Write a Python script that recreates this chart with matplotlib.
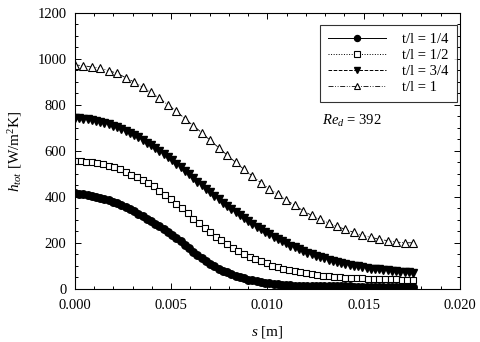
import numpy as np
import matplotlib
matplotlib.use("Agg")
import matplotlib.pyplot as plt
from matplotlib.ticker import MultipleLocator

plt.rcParams['font.family'] = ['Liberation Serif', 'DejaVu Serif']
plt.rcParams['mathtext.fontset'] = 'custom'
plt.rcParams['mathtext.rm'] = 'Liberation Serif'
plt.rcParams['mathtext.it'] = 'Liberation Serif:italic'

s_end = 0.01757

# t/l = 1/4 (filled circles)
h_quarter = [416, 415, 413, 410, 405, 401, 396, 391, 386, 380,
             373, 365, 357, 347, 337, 327, 316, 305, 295, 284,
             272, 260, 248, 235, 221, 207, 192, 177, 162, 148,
             134, 121, 110, 99, 89, 80, 72, 64, 57, 51,
             46, 41, 37, 33, 30, 27, 24, 22, 20, 18,
             17, 16, 15, 14, 13, 13, 12, 12, 12, 11,
             11, 11, 11, 11, 11, 11, 10, 10, 10, 10,
             10, 10, 10, 10, 10, 10, 10, 10, 10, 10, 10]

# t/l = 1/2 (open squares)
h_half = [556, 556, 554, 552, 548, 543, 536, 529, 520, 509,
          497, 486, 473, 460, 446, 428, 409, 390, 370, 350,
          330, 306, 286, 266, 246, 228, 211, 195, 179, 165,
          153, 141, 130, 120, 111, 102, 95, 88, 82, 77,
          72, 68, 64, 61, 58, 55, 53, 51, 49, 48,
          47, 46, 45, 44, 43, 43, 42, 42, 41, 41, 40]

# t/l = 3/4 (filled down triangles)
h_threeq = [743, 742, 740, 738, 735, 731, 727, 722, 716, 710,
            703, 695, 687, 679, 670, 659, 648, 636, 624, 612,
            600, 587, 574, 560, 545, 530, 514, 498, 482, 467,
            451, 436, 420, 405, 390, 376, 361, 347, 334, 320,
            307, 295, 282, 271, 260, 249, 238, 228, 218, 208,
            198, 189, 181, 173, 165, 158, 151, 145, 139, 133,
            127, 122, 117, 113, 109, 105, 101, 98, 95, 92,
            89, 87, 85, 83, 81, 79, 77, 75, 73, 72, 70]

# t/l = 1 (open triangles)
h_one = [974, 971, 965, 961, 949, 938, 919, 900, 878, 855,
         829, 801, 773, 741, 710, 680, 646, 615, 582, 551,
         520, 491, 462, 435, 412, 387, 364, 340, 320, 303,
         287, 272, 259, 246, 233, 225, 216, 210, 204, 201, 201]

labels = ['t/l = 1/4', 't/l = 1/2', 't/l = 3/4', 't/l = 1']
x_ticks = [0.000, 0.005, 0.010, 0.015, 0.020]
x_ticklabels = ['0.000', '0.005', '0.010', '0.015', '0.020']
y_ticks = [0, 200, 400, 600, 800, 1000, 1200]

fig = plt.figure(figsize=(4.8, 3.42), dpi=100)
ax = fig.add_axes([0.156, 0.155, 0.802, 0.807])

def grid(vals):
    return np.linspace(0, s_end, len(vals))

ax.plot(grid(h_quarter), h_quarter, '-', color='black', lw=0.7,
        marker='o', ms=5.4, mfc='black', mec='black', label=labels[0])
ax.plot(grid(h_half), h_half, ':', color='black', lw=0.7,
        marker='s', ms=5.0, mfc='white', mec='black', mew=0.8, label=labels[1])
ax.plot(grid(h_threeq), h_threeq, '--', color='black', lw=0.7,
        marker='v', ms=5.8, mfc='black', mec='black', label=labels[2])
ax.plot(grid(h_one), h_one, color='black', lw=0.6, dashes=[6, 2, 1, 2, 1, 2],
        marker='^', ms=6.0, mfc='white', mec='black', mew=0.8, label=labels[3])

ax.set_xlim(0, 0.020)
ax.set_ylim(0, 1200)
ax.set_xticks(x_ticks)
ax.set_xticklabels(x_ticklabels)
ax.set_yticks(y_ticks)
ax.xaxis.set_minor_locator(MultipleLocator(0.001))
ax.yaxis.set_minor_locator(MultipleLocator(50))
ax.tick_params(which='both', direction='in', top=True, right=True,
               labelsize=10.5, width=0.7, colors='black')
ax.tick_params(which='major', length=4)
ax.tick_params(which='minor', length=2)
ax.tick_params(axis='x', which='major', pad=7)
ax.tick_params(axis='y', which='major', pad=6)
for sp in ax.spines.values():
    sp.set_linewidth(0.8)

ax.set_xlabel(r'$s$ [m]', fontsize=11, labelpad=9)
ax.set_ylabel(r'$h_{tot}$ [W/m$^2$K]', fontsize=11, labelpad=10)

leg = ax.legend(loc='upper right', bbox_to_anchor=(0.992, 0.957), fontsize=10.5,
                numpoints=1, handlelength=4.0, frameon=True, fancybox=False,
                edgecolor='black', borderpad=0.55, labelspacing=0.2,
                handletextpad=1.1, borderaxespad=0.0, markerscale=0.8)
leg.get_frame().set_linewidth(0.8)

ax.text(0.642, 0.595, r'$Re_d$ = 392', transform=ax.transAxes, fontsize=10.5)

fig.savefig('out.png', dpi=100)
